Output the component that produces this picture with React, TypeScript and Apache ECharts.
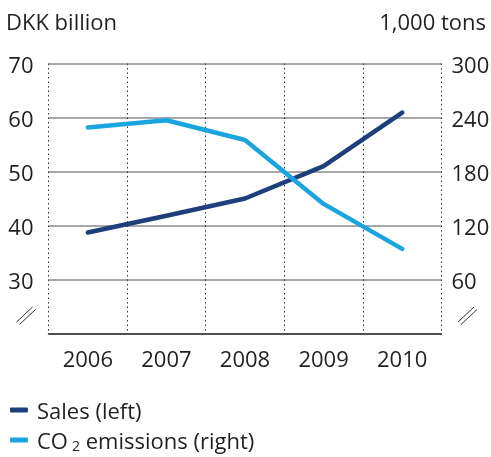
import React, { useEffect, useRef } from "react";
import * as echarts from "echarts";

const years = ["2006", "2007", "2008", "2009", "2010"];
const sales = [38.7, 41.8, 45.0, 51.0, 60.9];
const co2 = [229, 237, 215, 144, 94];
const leftTicks = { min: 20, max: 70, interval: 10 };
const rightTicks = { min: 0, max: 300, interval: 60 };
const leftTitle = "DKK billion";
const rightTitle = "1,000 tons";
const salesName = "Sales (left)";
const co2Name = "CO2 emissions (right)";

const FONT = "'Open Sans', sans-serif";
const TXT = "#231f20";
const NAVY = "#1d3f7c";
const CYAN = "#1ba5df";

export default function App() {
  const ref = useRef<HTMLDivElement>(null);
  useEffect(() => {
    if (!ref.current) return;
    const chart = echarts.init(ref.current, undefined, { renderer: "svg" });
    const brk = (x: number) => [
      { type: "line", shape: { x1: x, y1: 322, x2: x + 16, y2: 307 }, style: { stroke: "#333", lineWidth: 1 } },
      { type: "line", shape: { x1: x + 3, y1: 324.5, x2: x + 19, y2: 309.5 }, style: { stroke: "#333", lineWidth: 1 } },
    ];
    const legendText = {
      fontFamily: FONT,
      fontSize: 22,
      color: TXT,
      padding: [0, 0, 0, 4],
      rich: {
        n: { fontFamily: FONT, fontSize: 22, color: TXT, lineHeight: 24 },
        s: { fontFamily: FONT, fontSize: 14, color: TXT, verticalAlign: "bottom", lineHeight: 24, padding: [11, 0, 0, 4] },
      },
    };
    const legendBase = {
      orient: "horizontal",
      left: 5,
      itemWidth: 18,
      itemHeight: 5,
      itemGap: 10,
      icon: "roundRect",
      textStyle: legendText,
      formatter: (name: string) =>
        name === co2Name ? "{n|CO}{s|2}{n| emissions (right)}" : "{n|" + name + "}",
    };
    chart.setOption({
      animation: false,
      textStyle: { fontFamily: FONT },
      grid: { left: 48.5, right: 49.5, top: 63.5, bottom: 123.5, outerBoundsMode: "none", containLabel: false },
      graphic: [
        { type: "text", left: 6, top: 10, style: { text: leftTitle, font: `22px ${FONT}`, fill: TXT } },
        { type: "text", right: 5, top: 10, style: { text: rightTitle, font: `22px ${FONT}`, fill: TXT } },
        ...brk(16.5),
        ...brk(458),
      ],
      legend: [
        { ...legendBase, top: 394, data: [salesName] },
        { ...legendBase, top: 422, data: [co2Name] },
      ],
      xAxis: {
        type: "category",
        data: years,
        boundaryGap: true,
        axisLine: { lineStyle: { color: "#333", width: 1.5 } },
        axisTick: { show: false },
        axisLabel: { fontFamily: FONT, fontSize: 22, color: TXT, margin: 13 },
        splitLine: { show: true, lineStyle: { type: [1.5, 3], color: "#333", width: 1 } },
      },
      yAxis: [
        {
          type: "value",
          ...leftTicks,
          axisLine: { show: false },
          axisTick: { show: false },
          axisLabel: {
            fontFamily: FONT,
            fontSize: 22,
            color: TXT,
            margin: 15,
            formatter: (v: number) => (v === leftTicks.min ? "" : String(v)),
          },
          splitLine: { show: true, lineStyle: { color: "#8a8a8a", width: 1.5 } },
        },
        {
          type: "value",
          ...rightTicks,
          position: "right",
          axisLine: { show: false },
          axisTick: { show: false },
          axisLabel: {
            fontFamily: FONT,
            fontSize: 22,
            color: TXT,
            margin: 10,
            formatter: (v: number) => (v === rightTicks.min ? "" : String(v)),
          },
          splitLine: { show: false },
        },
      ],
      series: [
        {
          name: salesName,
          type: "line",
          data: sales,
          yAxisIndex: 0,
          symbol: "none",
          color: NAVY,
          lineStyle: { color: NAVY, width: 4.5, cap: "round", join: "round" },
        },
        {
          name: co2Name,
          type: "line",
          data: co2,
          yAxisIndex: 1,
          symbol: "none",
          color: CYAN,
          lineStyle: { color: CYAN, width: 4.5, cap: "round", join: "round" },
        },
      ],
    });
    return () => chart.dispose();
  }, []);
  return <div ref={ref} style={{ position: "fixed", left: 0, top: 0, width: 491, height: 457 }} />;
}
